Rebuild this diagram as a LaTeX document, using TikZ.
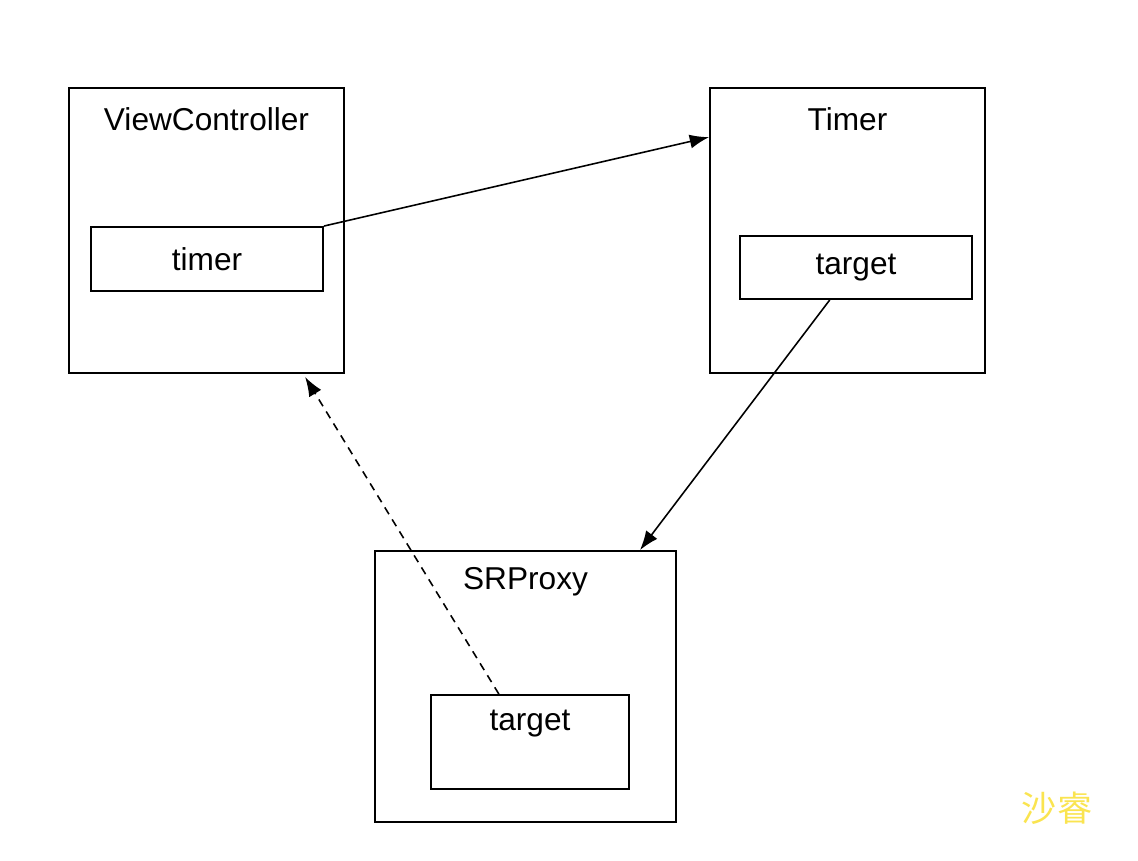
\documentclass[tikz,border=0pt]{standalone}
\usepackage{fontspec}
\setmainfont{Liberation Sans}
\newfontfamily\cjk{Noto Sans CJK SC}
\usetikzlibrary{arrows.meta}
\definecolor{wmyellow}{RGB}{250, 228, 80}

\begin{document}
\begin{tikzpicture}[x = 0.02cm, y = -0.02cm, >={Latex[length=11pt,width=8pt]},
  outer/.style = {draw, line width = 1.1pt, inner sep = 0pt},
  inner/.style = {draw, line width = 1.1pt, inner sep = 0pt, font = \fontsize{18}{20}\selectfont},
  title/.style = {font = \fontsize{18}{20}\selectfont, inner sep = 0pt},
  link/.style = {->, line width = 0.9pt}]
\useasboundingbox (0,0) rectangle (1138,860);
% outer objects
\node[outer, minimum width = 5.5cm, minimum height = 5.7cm] (vc) at (206.5,230.5) {};
\node[outer, minimum width = 5.5cm, minimum height = 5.7cm] (tmr) at (847.5,230.5) {};
\node[outer, minimum width = 6.02cm, minimum height = 5.42cm] (proxy) at (525.5,686.5) {};
\node[title] (vctitle) at (206.5,119) {ViewController};
\node[title] (tmrtitle) at (847.5,119) {Timer};
\node[title] (proxytitle) at (525.5,582) {SRProxy};
% inner fields
\node[inner, minimum width = 4.64cm, minimum height = 1.28cm] (timer) at (207,259) {timer};
\node[inner, minimum width = 4.64cm, minimum height = 1.26cm] (tgt) at (856,267.5) {target};
\node[draw, line width = 1.1pt, minimum width = 3.96cm, minimum height = 1.88cm] (ptgt) at (530,742) {};
\node[title] (ptgttext) at (530,724) {target};
% references
\draw[link] (timer.north east) -- (tmr.146);
\draw[link] (tgt.-129.5) -- (proxy.50.8);
\draw[link, dash pattern = on 4.5pt off 3.5pt, shorten > = 2pt] (ptgt.123.1) -- (vc.-56.7);
\node[text = wmyellow, font = \cjk\fontsize{20}{22}\selectfont] (mark) at (1057,808) {沙睿};
\end{tikzpicture}
\end{document}
